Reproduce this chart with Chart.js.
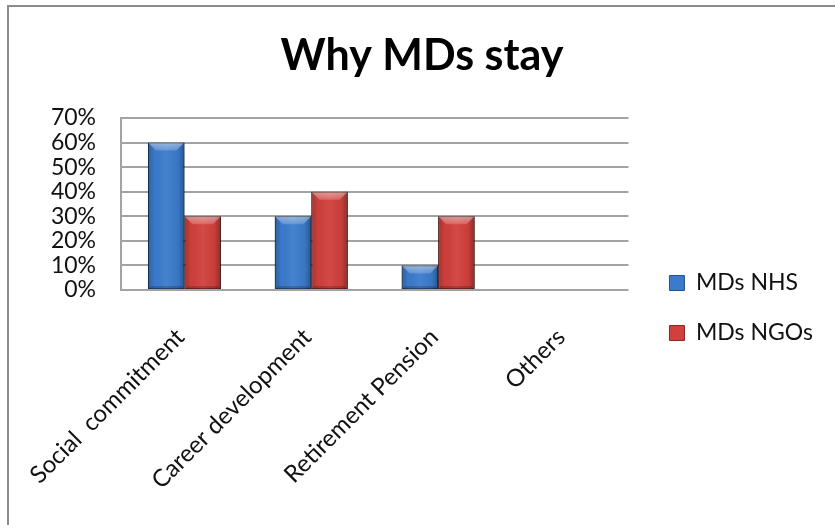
<!DOCTYPE html>
<html>
<head>
<meta charset="utf-8">
<title>Why MDs stay</title>
<script src="https://cdn.jsdelivr.net/npm/chart.js@4.4.1/dist/chart.umd.min.js"></script>
<style>
  html, body { margin: 0; padding: 0; background: #fff; }
  #wrap { position: relative; width: 835px; height: 525px; }
</style>
</head>
<body>
<div id="wrap"><canvas id="whyChart" width="835" height="525"></canvas></div>
<script>
// Survey answers: share of doctors per reason for staying (%)
const reasons = ['Social  commitment', 'Career development', 'Retirement Pension', 'Others'];
const nhsShare = [60, 30, 10, 0];
const ngoShare = [30, 40, 30, 0];
const seriesNames = ['MDs NHS', 'MDs NGOs'];
const yMax = 70;
const yStep = 10;

const FONT = 'Lato';
const GRID = '#a3a3a3';

// thin gray frame on the top and left edges
const framePlugin = {
  id: 'frame',
  beforeDraw(chart) {
    const ctx = chart.ctx;
    ctx.save();
    ctx.fillStyle = '#fff';
    ctx.fillRect(0, 0, chart.width, chart.height);
    ctx.fillStyle = '#8c8c8c';
    ctx.fillRect(7, 5, chart.width - 7, 2);
    ctx.fillRect(7, 5, 2, chart.height - 5);
    ctx.restore();
  }
};

// soft drop shadow behind the bars plus an Excel-like bevel on top of them
const bevelPlugin = {
  id: 'bevel',
  beforeDatasetsDraw(chart) {
    const ctx = chart.ctx;
    ctx.save();
    ctx.shadowColor = 'rgba(0,0,0,0.22)';
    ctx.shadowBlur = 5;
    ctx.shadowOffsetX = 3;
    ctx.shadowOffsetY = 1;
  },
  afterDatasetsDraw(chart) {
    const ctx = chart.ctx;
    ctx.restore();
    ctx.save();
    chart.data.datasets.forEach((ds, i) => {
      chart.getDatasetMeta(i).data.forEach(bar => {
        const { x, y, width, base } = bar.getProps(['x', 'y', 'width', 'base'], true);
        const h = base - y;
        if (h <= 0) return;
        const l = x - width / 2, r = x + width / 2;
        const b = Math.min(8, h / 2);

        // shading across the bar
        const g = ctx.createLinearGradient(l, 0, r, 0);
        g.addColorStop(0, 'rgba(0,0,0,0.22)');
        g.addColorStop(0.18, 'rgba(0,0,0,0.02)');
        g.addColorStop(0.5, 'rgba(255,255,255,0.06)');
        g.addColorStop(0.82, 'rgba(0,0,0,0.04)');
        g.addColorStop(1, 'rgba(0,0,0,0.3)');
        ctx.fillStyle = g;
        ctx.fillRect(l, y, width, h);

        // top bevel
        const tg = ctx.createLinearGradient(0, y, 0, y + b);
        tg.addColorStop(0, 'rgba(255,255,255,0.45)');
        tg.addColorStop(1, 'rgba(255,255,255,0.18)');
        ctx.fillStyle = tg;
        ctx.beginPath();
        ctx.moveTo(l, y);
        ctx.lineTo(r, y);
        ctx.lineTo(r - b, y + b);
        ctx.lineTo(l + b, y + b);
        ctx.closePath();
        ctx.fill();

        // bottom bevel
        ctx.fillStyle = 'rgba(0,0,0,0.18)';
        ctx.beginPath();
        ctx.moveTo(l, base);
        ctx.lineTo(r, base);
        ctx.lineTo(r - 3, base - 3);
        ctx.lineTo(l + 3, base - 3);
        ctx.closePath();
        ctx.fill();

        ctx.strokeStyle = 'rgba(0,0,0,0.35)';
        ctx.lineWidth = 1;
        ctx.strokeRect(l + 0.5, y + 0.5, width - 1, h - 1);
      });
    });
    ctx.restore();
  }
};

function drawChart() {
  const ctx = document.getElementById('whyChart');

  new Chart(ctx, {
    type: 'bar',
    data: {
      labels: reasons,
      datasets: [
        {
          label: seriesNames[0],
          data: nhsShare,
          backgroundColor: '#3b7bcc',
          borderColor: '#24528f',
          borderWidth: c => (c.type === 'data' && !c.raw ? 0 : 1),
          categoryPercentage: 0.575,
          barPercentage: 1
        },
        {
          label: seriesNames[1],
          data: ngoShare,
          backgroundColor: '#d0403c',
          borderColor: '#8e2522',
          borderWidth: c => (c.type === 'data' && !c.raw ? 0 : 1),
          categoryPercentage: 0.575,
          barPercentage: 1
        }
      ]
    },
    options: {
      responsive: false,
      animation: false,
      devicePixelRatio: 1,
      layout: { padding: { left: 21, right: 12, top: 0, bottom: 0 } },
      plugins: {
        title: {
          display: true,
          text: 'Why MDs stay',
          color: '#000',
          font: { family: FONT, size: 43, weight: 'bold' },
          padding: { top: 30.6, bottom: 35.8 }
        },
        legend: {
          position: 'right',
          align: 'start',
          maxWidth: 260,
          title: { display: true, text: ' ', font: { size: 10 }, padding: { top: 232.5, bottom: 0 } },
          labels: {
            color: '#111',
            font: { family: FONT, size: 23 },
            boxWidth: 15,
            boxHeight: 15,
            padding: 27
          }
        },
        tooltip: { enabled: false }
      },
      scales: {
        x: {
          grid: { display: false },
          border: { display: false },
          ticks: {
            autoSkip: false,
            minRotation: 45,
            maxRotation: 45,
            padding: 25,
            labelOffset: -4,
            color: '#111',
            font: { family: FONT, size: 24 }
          },
          // rotated labels may run out to the left of the plot
          afterFit: s => {
            s.height = 235;
            s.paddingLeft = 0;
            s.paddingRight = 0;
          }
        },
        y: {
          min: 0,
          max: yMax,
          grid: { color: GRID, lineWidth: 2, drawTicks: false },
          border: { display: true, color: GRID, width: 2 },
          ticks: {
            stepSize: yStep,
            autoSkip: false,
            padding: 25,
            color: '#111',
            font: { family: FONT, size: 23 },
            callback: v => v + '%'
          },
          afterFit: s => { s.width = 100; }
        },
        // keeps a small gap between the plot and the legend
        gap: {
          type: 'linear',
          position: 'right',
          display: true,
          grid: { display: false },
          border: { display: false },
          ticks: { display: false },
          afterFit: s => { s.width = 14; }
        }
      }
    },
    plugins: [framePlugin, bevelPlugin]
  });
}

// text is measured during layout, so the fonts have to be ready first
Promise.all([
  document.fonts.load('23px Lato'),
  document.fonts.load('bold 43px Lato')
]).then(drawChart, drawChart);
</script>
</body>
</html>
